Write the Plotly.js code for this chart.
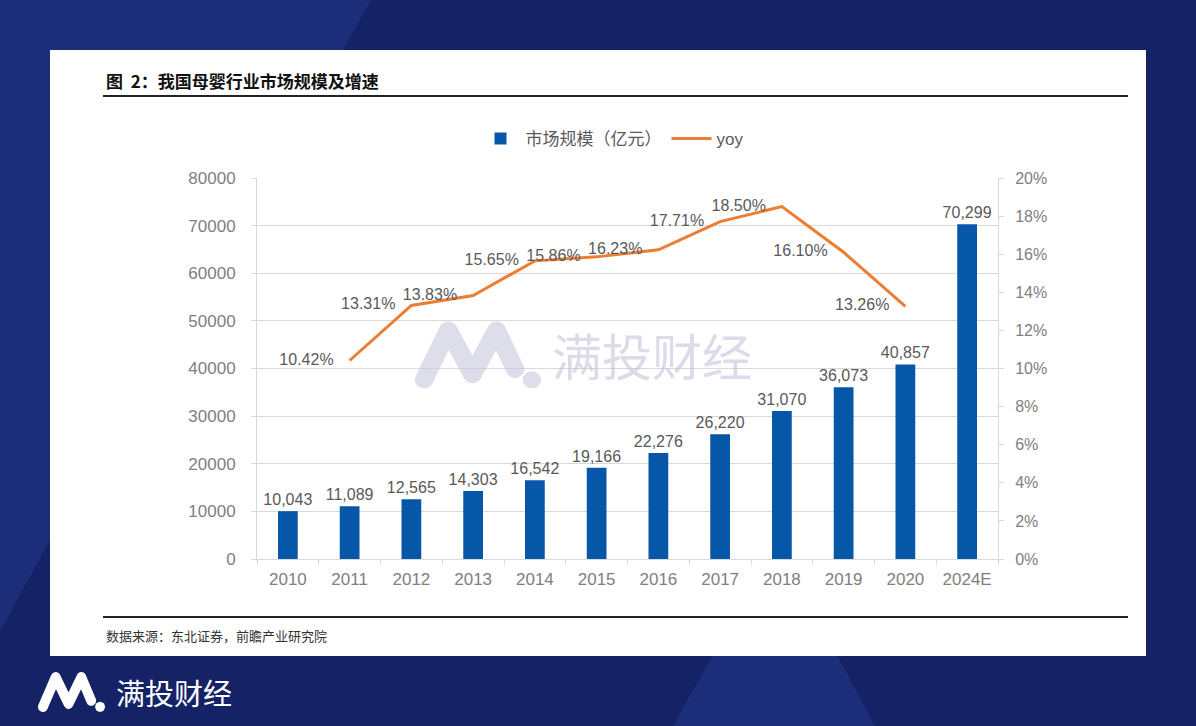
<!DOCTYPE html>
<html>
<head>
<meta charset="utf-8">
<script src="https://cdn.plot.ly/plotly-3.0.1.min.js"></script>
<style>html,body{margin:0;padding:0;background:#152366;}#chart{width:1196px;height:726px;}</style>
</head>
<body>
<div id="chart"></div>
<script>
// ---- data ----
const years = ['2010','2011','2012','2013','2014','2015','2016','2017','2018','2019','2020','2024E'];
const marketSize = [10043, 11089, 12565, 14303, 16542, 19166, 22276, 26220, 31070, 36073, 40857, 70299];
const yoyYears = ['2011','2012','2013','2014','2015','2016','2017','2018','2019','2020'];
const yoyValues = [10.42, 13.31, 13.83, 15.65, 15.86, 16.23, 17.71, 18.50, 16.10, 13.26];
const seriesNames = ['市场规模（亿元）', 'yoy'];
const chartTitle = '图&nbsp;&nbsp;2：我国母婴行业市场规模及增速';
const sourceText = '数据来源：东北证券，前瞻产业研究院';
const brandText = '满投财经';

// ---- geometry helpers (pixel -> paper) ----
const L = 257, R = 998, T = 178, B = 559;
const px = x => (x - L) / (R - L);
const py = y => (B - y) / (B - T);
const poly = pts => 'M' + pts.map(p => px(p[0]) + ',' + py(p[1])).join(' L') + ' Z';

const fontMain = 'Liberation Sans, Arial, "Noto Sans CJK SC", sans-serif';
const gray = '#595959';
const tickGray = '#808080';

const logoSvg = (color, op) => 'data:image/svg+xml;utf8,' + encodeURIComponent(
  `<svg xmlns="http://www.w3.org/2000/svg" viewBox="0 0 70 42"><g fill="none" stroke="${color}" stroke-opacity="${op}" stroke-width="10" stroke-linecap="round" stroke-linejoin="round"><path d="M6,36 L19,7 L32,33 L45,7 L55,30"/></g><circle cx="64" cy="36" r="5" fill="${color}" fill-opacity="${op}"/></svg>`);

const traces = [
  {
    type: 'bar', x: years, y: marketSize, name: seriesNames[0],
    marker: {color: '#0757A8'},
    text: marketSize.map(v => v.toLocaleString('en-US')),
    textposition: 'outside', cliponaxis: false, constraintext: 'none',
    textfont: {family: fontMain, size: 16, color: gray},
    outsidetextfont: {family: fontMain, size: 16, color: gray},
    hoverinfo: 'x+y'
  },
  {
    type: 'scatter', mode: 'lines+text', x: yoyYears, y: yoyValues, name: seriesNames[1],
    yaxis: 'y2',
    line: {color: '#ED7D31', width: 3},
    text: yoyValues.map(v => v.toFixed(2) + '%' + '\u2002\u2002'),
    textposition: 'middle left', cliponaxis: false,
    textfont: {family: fontMain, size: 16, color: gray}
  }
];

const layout = {
  width: 1196, height: 726,
  margin: {l: L, r: 1196 - R, t: T, b: 726 - B},
  paper_bgcolor: '#152366', plot_bgcolor: 'rgba(0,0,0,0)',
  font: {family: fontMain, color: gray, size: 15},
  bargap: 0.68,
  showlegend: true,
  legend: {orientation: 'h', x: px(612), y: py(139), xanchor: 'center', yanchor: 'middle',
           font: {size: 17, color: gray}, bgcolor: 'rgba(0,0,0,0)', itemwidth: 40},
  xaxis: {
    type: 'category', showgrid: false, showline: true, linecolor: '#d9d9d9', linewidth: 1,
    ticks: 'outside', tickson: 'boundaries', ticklen: 5, tickcolor: '#d9d9d9',
    tickfont: {size: 17, color: tickGray}, fixedrange: true, ticklabelstandoff: 5
  },
  yaxis: {
    range: [0, 80000], dtick: 10000, tickformat: 'd',
    showgrid: true, gridcolor: '#d9d9d9', gridwidth: 1,
    showline: true, linecolor: '#d9d9d9', ticks: 'outside', ticklen: 5, tickcolor: '#d9d9d9',
    tickfont: {size: 17, color: tickGray}, zeroline: false, ticklabelstandoff: 12
  },
  yaxis2: {
    range: [0, 20], dtick: 2, ticksuffix: '%', overlaying: 'y', side: 'right',
    showgrid: false, showline: true, linecolor: '#d9d9d9', ticks: 'outside', ticklen: 5, tickcolor: '#d9d9d9',
    tickfont: {size: 16, color: tickGray}, zeroline: false, ticklabelstandoff: 8
  },
  shapes: [
    {type: 'path', xref: 'paper', yref: 'paper', layer: 'below', line: {width: 0}, fillcolor: '#1c2e7a',
     path: poly([[0,0],[371,0],[343,50],[200,400],[50,540],[0,631]])},
    {type: 'path', xref: 'paper', yref: 'paper', layer: 'below', line: {width: 0}, fillcolor: '#1c2e7a',
     path: poly([[713,655],[837,655],[875,726],[673,726]])},
    {type: 'rect', xref: 'paper', yref: 'paper', layer: 'below', line: {width: 0}, fillcolor: '#ffffff',
     x0: px(50), x1: px(1146), y0: py(656), y1: py(50)},
    {type: 'line', xref: 'paper', yref: 'paper', line: {color: '#222222', width: 2},
     x0: px(103), x1: px(1128), y0: py(96), y1: py(96)},
    {type: 'line', xref: 'paper', yref: 'paper', line: {color: '#222222', width: 2},
     x0: px(103), x1: px(1128), y0: py(617), y1: py(617)}
  ],
  images: [
    {source: logoSvg('#c8c8dc', 0.6), xref: 'paper', yref: 'paper', x: px(413), y: py(318),
     sizex: px(543) - px(413), sizey: py(318) - py(390), xanchor: 'left', yanchor: 'top', sizing: 'stretch', layer: 'above'},
    {source: logoSvg('#ffffff', 1), xref: 'paper', yref: 'paper', x: px(37), y: py(670),
     sizex: px(106) - px(37), sizey: py(670) - py(713), xanchor: 'left', yanchor: 'top', sizing: 'stretch'}
  ],
  annotations: [
    {text: '<b>' + chartTitle + '</b>', xref: 'paper', yref: 'paper', x: px(104), y: py(80),
     xanchor: 'left', yanchor: 'middle', showarrow: false,
     font: {family: '"Noto Sans CJK SC", sans-serif', size: 17, color: '#111111'}},
    {text: sourceText, xref: 'paper', yref: 'paper', x: px(104), y: py(635),
     xanchor: 'left', yanchor: 'middle', showarrow: false,
     font: {family: '"Noto Sans CJK SC", sans-serif', size: 13, color: '#333333'}},
    {text: brandText, xref: 'paper', yref: 'paper', x: px(652), y: py(354),
     xanchor: 'center', yanchor: 'middle', showarrow: false,
     font: {family: '"Noto Sans CJK SC", sans-serif', size: 50, color: 'rgba(190,190,215,0.55)'}},
    {text: brandText, xref: 'paper', yref: 'paper', x: px(114), y: py(692),
     xanchor: 'left', yanchor: 'middle', showarrow: false,
     font: {family: '"Noto Sans CJK SC", sans-serif', size: 29, color: '#ffffff'}}
  ]
};

Plotly.newPlot('chart', traces, layout, {staticPlot: true, displayModeBar: false});
</script>
</body>
</html>
